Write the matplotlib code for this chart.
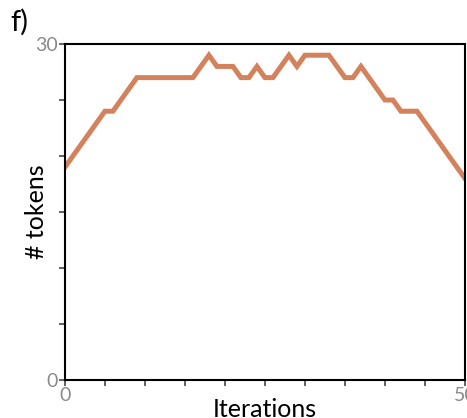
import numpy as np
import matplotlib.pyplot as plt

# tokens per iteration
iterations = np.arange(51)
tokens = [19, 20, 21, 22, 23, 24, 24, 25, 26, 27,
          27, 27, 27, 27, 27, 27, 27, 28, 29, 28,
          28, 28, 27, 27, 28, 27, 27, 28, 29, 28,
          29, 29, 29, 29, 28, 27, 27, 28, 27, 26,
          25, 25, 24, 24, 24, 23, 22, 21, 20, 19,
          18]

plt.rcParams['font.family'] = ['Lato', 'DejaVu Sans']

fig = plt.figure(figsize=(4.67, 4.18), dpi=100)
ax = fig.add_axes([0.139, 0.0909, 0.8566, 0.8038])

ax.plot(iterations, tokens, color='#d4825c', lw=3.6, solid_joinstyle='miter')

ax.set_xlim(0, 50)
ax.set_ylim(0, 30)
ax.set_xticks(np.arange(0, 51, 5))
ax.set_xticklabels(['0'] + [''] * 9 + ['50'])
ax.set_yticks(np.arange(0, 31, 5))
ax.set_yticklabels(['0'] + [''] * 5 + ['30'])
ax.tick_params(labelsize=14, labelcolor='#8a8a8a', color='#555555',
               width=1.3, length=4, pad=1)

for s in ax.spines.values():
    s.set_linewidth(1.5)

ax.set_xlabel('Iterations', fontsize=18, labelpad=-4)
ax.set_ylabel('# tokens', fontsize=18, labelpad=-9)

fig.text(0.022, 0.978, 'f)', fontsize=21, va='top', ha='left')

fig.savefig('out.png', dpi=100)
